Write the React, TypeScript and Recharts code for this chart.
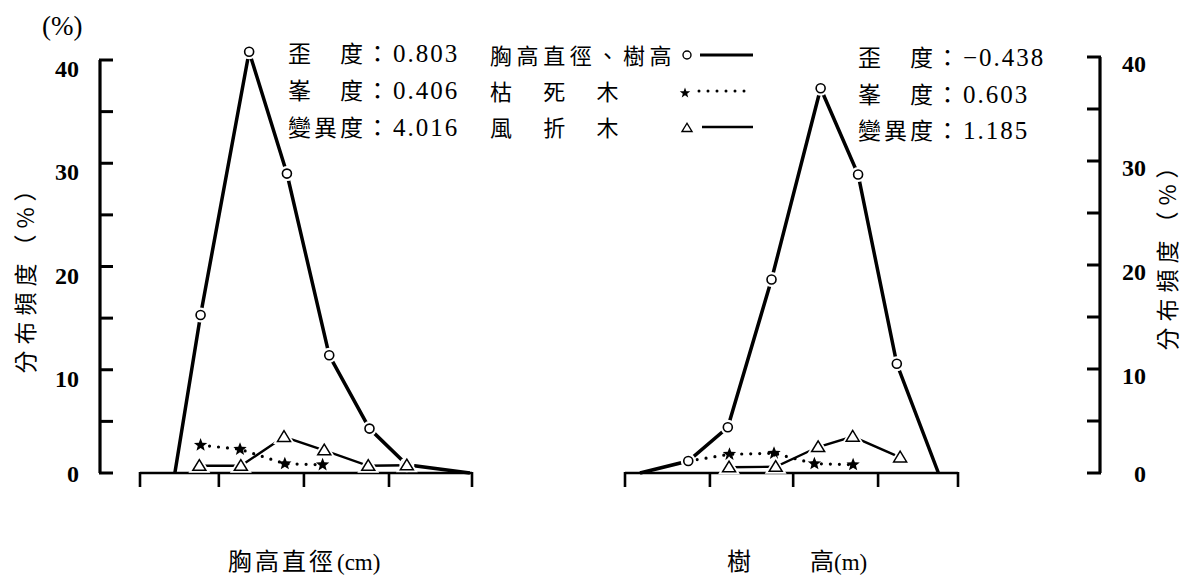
import React from "react";
import { LineChart, Line, XAxis, YAxis, ReferenceLine } from "recharts";

// 胸高直徑 panel (x in tick units: 0..8 across the axis)
const dbhX = [0.84, 1.46, 2.63, 3.54, 4.56, 5.53, 6.43, 7.95];
const dbhAll = [0, 15.3, 40.8, 29.0, 11.4, 4.3, 0.8, 0];
const dbhDeadX = [1.46, 2.41, 3.49, 4.4];
const dbhDead = [2.7, 2.3, 0.9, 0.8];
const dbhWindX = [1.43, 2.43, 3.47, 4.44, 5.5, 6.43];
const dbhWind = [0.7, 0.7, 3.5, 2.2, 0.7, 0.75];

// 樹高 panel
const htX = [0.36, 1.52, 2.47, 3.52, 4.7, 5.6, 6.53, 7.53];
const htAll = [0, 1.15, 4.4, 18.6, 37.0, 28.7, 10.5, 0];
const htDeadX = [1.52, 2.51, 3.58, 4.55, 5.48];
const htDead = [1.15, 1.8, 1.9, 0.9, 0.8];
const htWindX = [2.5, 3.62, 4.64, 5.47, 6.61];
const htWind = [0.55, 0.6, 2.5, 3.5, 1.5];

const dbhTicks = [0, 1.9, 3.95, 6, 8];
const htTicks = [0, 2.04, 4.04, 6.08, 8];
const yTicks = [0, 5, 10, 15, 20, 25, 30, 35, 40];

const leftStats = [
  ["歪　度：", "0.803"],
  ["峯　度：", "0.406"],
  ["變異度：", "4.016"],
];
const rightStats = [
  ["歪　度：", "−0.438"],
  ["峯　度：", "0.603"],
  ["變異度：", "1.185"],
];
const legendNames = ["胸高直徑、樹高", "枯　死　木", "風　折　木"];

const CJK = '"Noto Sans CJK TC", "Noto Sans CJK JP", sans-serif';
const NUM = '"Liberation Serif", "DejaVu Serif", serif';

const zip = (xs: number[], ys: number[]) => xs.map((x, i) => ({ x, y: ys[i] }));

function starPath(cx: number, cy: number, R: number, r: number) {
  let d = "";
  for (let i = 0; i < 10; i++) {
    const a = ((-90 + i * 36) * Math.PI) / 180;
    const rad = i % 2 ? r : R;
    d += (i ? "L" : "M") + (cx + rad * Math.cos(a)).toFixed(2) + "," + (cy + rad * Math.sin(a)).toFixed(2);
  }
  return d + "Z";
}

const triPoints = (cx: number, cy: number, s: number) =>
  `${cx},${cy - s * 0.95} ${cx - s},${cy + s * 0.7} ${cx + s},${cy + s * 0.7}`;

const circleDot = (p: any) => {
  const { cx, cy, index, value } = p;
  if (!value) return <g key={`c${index}`} />;
  return (
    <g key={`c${index}`}>
      <circle cx={cx} cy={cy} r={7.5} fill="#fff" />
      <circle cx={cx} cy={cy} r={4.5} fill="#fff" stroke="#000" strokeWidth={1.6} />
    </g>
  );
};

const makeStarDot = (skipFirst: boolean) => (p: any) => {
  const { cx, cy, index } = p;
  if (skipFirst && index === 0) return <g key={`s${index}`} />;
  return <path key={`s${index}`} d={starPath(cx, cy, 7, 3)} fill="#000" />;
};

const triDot = (p: any) => {
  const { cx, cy, index } = p;
  return (
    <g key={`t${index}`}>
      <polygon points={triPoints(cx, cy, 6.5)} fill="#fff" stroke="#fff" strokeWidth={5} />
      <polygon points={triPoints(cx, cy, 6.5)} fill="#fff" stroke="#000" strokeWidth={1.5} />
    </g>
  );
};

const XTick = (p: any) => {
  const { x } = p;
  return <line x1={x} x2={x} y1={472} y2={487} stroke="#000" strokeWidth={2.6} />;
};

const LeftTick = (p: any) => {
  const { y, payload } = p;
  const v = payload.value;
  return (
    <g>
      <line x1={99} x2={113} y1={y} y2={y} stroke="#000" strokeWidth={3} />
      {v % 10 === 0 && (
        <text x={79} y={v === 0 ? y + 9 : y + 17} textAnchor="end" fontFamily={NUM} fontWeight="bold" fontSize={24} fill="#000">
          {v}
        </text>
      )}
    </g>
  );
};

const RightTick = (p: any) => {
  const { y, payload } = p;
  const v = payload.value;
  return (
    <g>
      <line x1={1087} x2={1101} y1={y} y2={y} stroke="#000" strokeWidth={3} />
      {v % 10 === 0 && (
        <text x={1146} y={v === 0 ? y + 9 : y + 15} textAnchor="end" fontFamily={NUM} fontWeight="bold" fontSize={24} fill="#000">
          {v}
        </text>
      )}
    </g>
  );
};

const StatNumber = ({ x, y, num }: { x: number; y: number; num: string }) => (
  <text x={x} y={y} fontFamily={NUM} fontSize={25} letterSpacing={2} fill="#000">
    {num}
  </text>
);

// layout: left panel axis 0 at x=140, 8 at x=472; right panel 0 at 625, 8 at 958
const L_PX = (472 - 140) / 8;
const L_DOMAIN: [number, number] = [(100 - 140) / L_PX, (500 - 140) / L_PX];
const R_PX = (958 - 625) / 8;
const R_DOMAIN: [number, number] = [(600 - 625) / R_PX, (1100 - 625) / R_PX];

export default function App() {
  return (
    <div style={{ position: "relative", width: 1189, height: 582, background: "#fff", overflow: "hidden" }}>
      <style>{"body{margin:0}"}</style>

      <div style={{ position: "absolute", left: 0, top: 0 }}>
        <LineChart width={1189} height={582} margin={{ top: 473 - 42 * 10.4, right: 0, bottom: 0, left: 600 }}>
          <XAxis
            type="number"
            dataKey="x"
            domain={R_DOMAIN}
            ticks={htTicks}
            interval={0}
            tick={XTick}
            axisLine={false}
            tickLine={false}
            height={109}
          />
          <YAxis
            orientation="right"
            type="number"
            domain={[0, 42]}
            ticks={yTicks}
            interval={0}
            width={89}
            axisLine={false}
            tickLine={false}
            tick={RightTick}
          />
          <ReferenceLine segment={[{ x: 0, y: 0 }, { x: 8, y: 0 }]} stroke="#000" strokeWidth={2.5} ifOverflow="visible" />
          <ReferenceLine segment={[{ x: R_DOMAIN[1], y: 0 }, { x: R_DOMAIN[1], y: 40 }]} stroke="#000" strokeWidth={3.2} ifOverflow="visible" />
          <Line data={zip(htX, htAll)} dataKey="y" type="linear" stroke="#000" strokeWidth={3.5} dot={circleDot} isAnimationActive={false} />
          <Line data={zip(htDeadX, htDead)} dataKey="y" type="linear" stroke="#000" strokeWidth={3.2} strokeDasharray="0 9" strokeLinecap="round" dot={makeStarDot(true)} isAnimationActive={false} />
          <Line data={zip(htWindX, htWind)} dataKey="y" type="linear" stroke="#000" strokeWidth={2.4} dot={triDot} isAnimationActive={false} />
        </LineChart>
      </div>

      <div style={{ position: "absolute", left: 0, top: 0 }}>
        <LineChart width={500} height={582} margin={{ top: 473 - 42 * 10.325, right: 0, bottom: 0, left: 0 }}>
          <XAxis
            type="number"
            dataKey="x"
            domain={L_DOMAIN}
            ticks={dbhTicks}
            interval={0}
            tick={XTick}
            axisLine={false}
            tickLine={false}
            height={109}
          />
          <YAxis
            type="number"
            domain={[0, 42]}
            ticks={yTicks}
            interval={0}
            width={100}
            axisLine={false}
            tickLine={false}
            tick={LeftTick}
          />
          <ReferenceLine segment={[{ x: 0, y: 0 }, { x: 8, y: 0 }]} stroke="#000" strokeWidth={2.5} ifOverflow="visible" />
          <ReferenceLine segment={[{ x: L_DOMAIN[0], y: 0 }, { x: L_DOMAIN[0], y: 40 }]} stroke="#000" strokeWidth={3.2} ifOverflow="visible" />
          <Line data={zip(dbhX, dbhAll)} dataKey="y" type="linear" stroke="#000" strokeWidth={3.5} dot={circleDot} isAnimationActive={false} />
          <Line data={zip(dbhDeadX, dbhDead)} dataKey="y" type="linear" stroke="#000" strokeWidth={3.2} strokeDasharray="0 9" strokeLinecap="round" dot={makeStarDot(false)} isAnimationActive={false} />
          <Line data={zip(dbhWindX, dbhWind)} dataKey="y" type="linear" stroke="#000" strokeWidth={2.4} dot={triDot} isAnimationActive={false} />
        </LineChart>
      </div>

      <svg width={1189} height={582} style={{ position: "absolute", left: 0, top: 0, pointerEvents: "none" }}>
        <text x={42} y={35} fontFamily={NUM} fontSize={27} fill="#000">(%)</text>

        {leftStats.map(([label, num], i) => (
          <g key={`ls${i}`}>
            <text x={288} y={62 + i * 37} fontFamily={CJK} fontSize={23} letterSpacing={3} fill="#000">{label}</text>
            <StatNumber x={393} y={62 + i * 37} num={num} />
          </g>
        ))}

        {rightStats.map(([label, num], i) => (
          <g key={`rs${i}`}>
            <text x={858} y={66 + i * 36.5} fontFamily={CJK} fontSize={23} letterSpacing={3} fill="#000">{label}</text>
            <StatNumber x={963} y={66 + i * 36.5} num={num} />
          </g>
        ))}

        {legendNames.map((name, i) => (
          <text key={`ln${i}`} x={490} y={64 + i * 36} fontFamily={CJK} fontSize={22} letterSpacing={4.6} fill="#000">{name}</text>
        ))}
        <circle cx={687} cy={55} r={4} fill="#fff" stroke="#000" strokeWidth={1.4} />
        <line x1={700} x2={753} y1={55} y2={55} stroke="#000" strokeWidth={3} />
        <path d={starPath(685, 93, 5.5, 2.3)} fill="#000" />
        <line x1={699} x2={753} y1={91} y2={91} stroke="#000" strokeWidth={3} strokeDasharray="0 9" strokeLinecap="round" />
        <polygon points={triPoints(687, 128, 5)} fill="#fff" stroke="#000" strokeWidth={1.4} />
        <line x1={702} x2={753} y1={127} y2={127} stroke="#000" strokeWidth={2.5} />

        <text y={570} fontFamily={CJK} fontSize={24} fill="#000">
          <tspan x={228} letterSpacing={3}>胸高直徑</tspan>
          <tspan x={337} fontFamily={NUM} fontSize={23}>(cm)</tspan>
        </text>
        <text y={570} fontFamily={CJK} fontSize={24} fill="#000">
          <tspan x={727}>樹</tspan>
          <tspan x={810}>高</tspan>
          <tspan x={834} fontFamily={NUM} fontSize={23}>(m)</tspan>
        </text>

        <text transform="translate(24,273) rotate(-90)" textAnchor="middle" dominantBaseline="central" fontFamily={CJK} fontSize={23} letterSpacing={6} fill="#000">
          分布頻度（%）
        </text>
        <text transform="translate(1166,250) rotate(-90)" textAnchor="middle" dominantBaseline="central" fontFamily={CJK} fontSize={23} letterSpacing={6} fill="#000">
          分布頻度（%）
        </text>
      </svg>
    </div>
  );
}
